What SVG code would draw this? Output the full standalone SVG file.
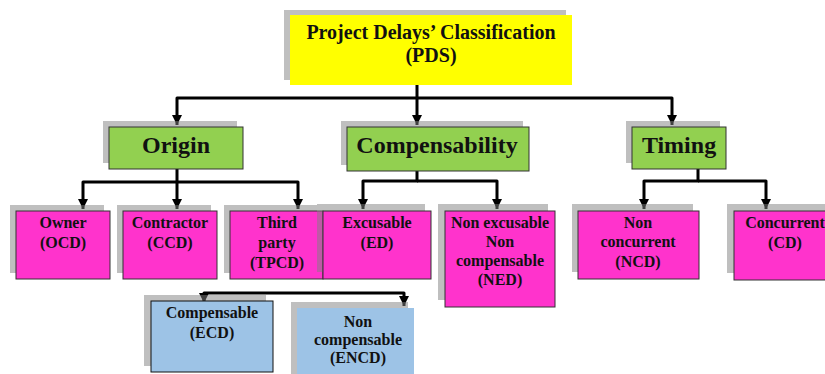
<svg xmlns="http://www.w3.org/2000/svg" width="825" height="374" viewBox="0 0 825 374">
<style>
.sh{fill:#7f7f7f;fill-opacity:0.5}
.b{stroke:#333;stroke-width:1}
.y{fill:#FFFF00}
.g{fill:#92D050}
.p{fill:#FF33CC}
.bl{fill:#9DC3E6}
text{font-family:"Liberation Serif","Times New Roman",serif;font-weight:bold;fill:#111;text-anchor:middle}
.t1{font-size:20px}
.t2{font-size:24px}
.t3{font-size:16px}
.c{fill:none;stroke:#000;stroke-width:3;stroke-linejoin:round}
</style>
<defs>
<marker id="ah" markerUnits="userSpaceOnUse" markerWidth="12" markerHeight="12" viewBox="0 0 12 12" refX="10" refY="6" orient="auto-start-reverse">
<path d="M0,1 L10,6 L0,11 Z" fill="#000"/>
</marker>
</defs>
<rect width="825" height="374" fill="#fff"/>
<g id="connectors">
<path class="c" d="M417,85 V98 H177 V125" marker-end="url(#ah)"/>
<path class="c" d="M417,98 H672 V125" marker-end="url(#ah)"/>
<path class="c" d="M417,98 V125" marker-end="url(#ah)"/>
<path class="c" d="M177,169 V182 H83 V209" marker-end="url(#ah)"/>
<path class="c" d="M177,182 V209" marker-end="url(#ah)"/>
<path class="c" d="M177,182 H298 V209" marker-end="url(#ah)"/>
<path class="c" d="M417,171 V181 H363 V209" marker-end="url(#ah)"/>
<path class="c" d="M417,181 H497 V209" marker-end="url(#ah)"/>
<path class="c" d="M698,169 V181 H644 V209" marker-end="url(#ah)"/>
<path class="c" d="M698,181 H766 V209" marker-end="url(#ah)"/>
<path class="c" d="M204,303 V293 H404 V306" marker-start="url(#ah)" marker-end="url(#ah)"/>
</g>
<g id="pds">
<rect class="sh" x="284" y="10" width="282" height="70"/>
<rect class="y" x="290" y="15" width="282" height="70"/>
<text class="t1" x="431" y="39">Project Delays’ Classification</text>
<text class="t1" x="431" y="62">(PDS)</text>
</g>
<g id="origin">
<rect class="sh" x="103" y="121" width="134" height="42"/>
<rect class="g b" x="109" y="127" width="134" height="42"/>
<text class="t2" x="176" y="153">Origin</text>
</g>
<g id="compensability">
<rect class="sh" x="341" y="121" width="182" height="44"/>
<rect class="g b" x="347" y="127" width="182" height="44"/>
<text class="t2" x="437" y="153">Compensability</text>
</g>
<g id="timing">
<rect class="sh" x="626" y="121" width="94" height="42"/>
<rect class="g b" x="632" y="127" width="94" height="42"/>
<text class="t2" x="679" y="153">Timing</text>
</g>
<g id="owner">
<rect class="sh" x="10" y="205" width="94" height="68"/>
<rect class="p b" x="16" y="211" width="94" height="68"/>
<text class="t3" x="63" y="228">Owner</text>
<text class="t3" x="63" y="248">(OCD)</text>
</g>
<g id="contractor">
<rect class="sh" x="117" y="205" width="94" height="68"/>
<rect class="p b" x="123" y="211" width="94" height="68"/>
<text class="t3" x="170" y="228">Contractor</text>
<text class="t3" x="170" y="248">(CCD)</text>
</g>
<g id="thirdparty">
<rect class="sh" x="224" y="205" width="93" height="68"/>
<rect class="p b" x="230" y="211" width="93" height="68"/>
<text class="t3" x="277" y="228">Third</text>
<text class="t3" x="277" y="248">party</text>
<text class="t3" x="277" y="268">(TPCD)</text>
</g>
<g id="excusable">
<rect class="sh" x="317" y="204" width="108" height="68"/>
<rect class="p b" x="323" y="211" width="108" height="68"/>
<text class="t3" x="377" y="228">Excusable</text>
<text class="t3" x="377" y="248">(ED)</text>
</g>
<g id="nonexcusable">
<rect class="sh" x="438" y="204" width="110" height="96"/>
<rect class="p b" x="445" y="211" width="110" height="96"/>
<text class="t3" x="500" y="228">Non excusable</text>
<text class="t3" x="500" y="247">Non</text>
<text class="t3" x="500" y="266">compensable</text>
<text class="t3" x="500" y="285">(NED)</text>
</g>
<g id="nonconcurrent">
<rect class="sh" x="572" y="204" width="121" height="68"/>
<rect class="p b" x="578" y="211" width="121" height="68"/>
<text class="t3" x="638" y="228">Non</text>
<text class="t3" x="638" y="247">concurrent</text>
<text class="t3" x="638" y="267">(NCD)</text>
</g>
<g id="concurrent">
<rect class="sh" x="727" y="204" width="102" height="69"/>
<rect class="p b" x="734" y="211" width="102" height="69"/>
<text class="t3" x="785" y="228">Concurrent</text>
<text class="t3" x="785" y="248">(CD)</text>
</g>
<g id="compensable">
<rect class="sh" x="144" y="295" width="122" height="71"/>
<rect class="bl" x="151" y="301" width="122" height="71" stroke="#111" stroke-width="1"/>
<text class="t3" x="212" y="318">Compensable</text>
<text class="t3" x="212" y="338">(ECD)</text>
</g>
<g id="noncompensable">
<rect class="sh" x="291" y="302" width="117" height="72"/>
<rect class="bl" x="297" y="308" width="117" height="70"/>
<text class="t3" x="358" y="327">Non</text>
<text class="t3" x="358" y="345">compensable</text>
<text class="t3" x="358" y="363">(ENCD)</text>
</g>
</svg>
